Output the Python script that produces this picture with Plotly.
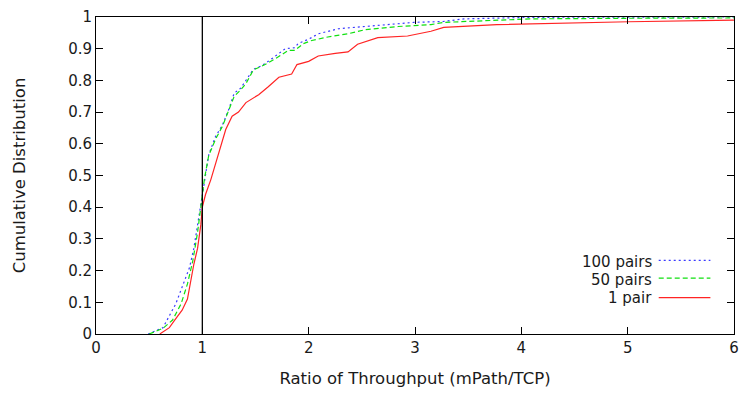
import plotly.graph_objects as go

# Data
x_100 = [0.49, 0.57, 0.63, 0.75, 0.81, 0.88, 0.92, 0.97, 1.00, 1.03, 1.06, 1.12, 1.19, 1.25, 1.30, 1.36, 1.45, 1.48, 1.55, 1.62, 1.70, 1.78, 1.87, 1.90, 2.00, 2.09, 2.28, 2.53, 2.84, 2.99, 3.27, 3.46, 4.08, 5.0, 6.0]
y_100 = [0.0, 0.012, 0.02, 0.095, 0.147, 0.21, 0.27, 0.376, 0.449, 0.50, 0.565, 0.62, 0.66, 0.71, 0.76, 0.775, 0.82, 0.835, 0.845, 0.86, 0.88, 0.90, 0.903, 0.916, 0.93, 0.947, 0.963, 0.97, 0.978, 0.983, 0.986, 0.994, 0.999, 1.0, 1.0]

x_50 = [0.50, 0.63, 0.72, 0.80, 0.86, 0.91, 0.955, 0.986, 1.02, 1.06, 1.125, 1.19, 1.25, 1.30, 1.36, 1.41, 1.48, 1.59, 1.69, 1.81, 1.87, 1.95, 2.03, 2.18, 2.37, 2.53, 2.84, 3.15, 3.27, 4.08, 5.0, 6.0]
y_50 = [0.0, 0.018, 0.044, 0.095, 0.158, 0.23, 0.32, 0.41, 0.49, 0.563, 0.615, 0.656, 0.708, 0.75, 0.77, 0.79, 0.833, 0.85, 0.869, 0.895, 0.895, 0.916, 0.926, 0.937, 0.947, 0.96, 0.97, 0.976, 0.983, 0.994, 0.996, 0.997]

x_1 = [0.60, 0.69, 0.74, 0.81, 0.86, 0.89, 0.92, 0.955, 0.986, 1.00, 1.03, 1.08, 1.125, 1.17, 1.22, 1.28, 1.34, 1.41, 1.53, 1.62, 1.72, 1.84, 1.89, 2.00, 2.09, 2.25, 2.37, 2.46, 2.65, 2.93, 3.15, 3.27, 3.77, 5.01, 6.0]
y_1 = [0.0, 0.02, 0.044, 0.075, 0.11, 0.168, 0.22, 0.27, 0.345, 0.40, 0.44, 0.487, 0.54, 0.585, 0.645, 0.687, 0.70, 0.73, 0.755, 0.78, 0.81, 0.82, 0.85, 0.86, 0.877, 0.885, 0.89, 0.914, 0.935, 0.94, 0.955, 0.967, 0.976, 0.985, 0.99]

series = [
    ("100 pairs", x_100, y_100, "#3a3aff", "2px,3px"),
    ("50 pairs", x_50, y_50, "#10e010", "5px,3px"),
    ("1 pair", x_1, y_1, "#ff2424", "solid"),
]

x_ticks = [0, 1, 2, 3, 4, 5, 6]
y_ticks = [0, 0.1, 0.2, 0.3, 0.4, 0.5, 0.6, 0.7, 0.8, 0.9, 1]
y_tick_labels = ["0", "0.1", "0.2", "0.3", "0.4", "0.5", "0.6", "0.7", "0.8", "0.9", "1"]

font_family = "DejaVu Sans, Verdana, sans-serif"
txt_color = "#1a1a1a"

fig = go.Figure()
for name, xs, ys, color, dash in series:
    fig.add_trace(go.Scatter(x=xs, y=ys, mode="lines", name=name,
                             line=dict(color=color, width=1.2, dash=dash),
                             showlegend=False))

# vertical reference line at x = 1
fig.add_shape(type="line", xref="x", yref="y", x0=1, x1=1, y0=0, y1=1,
              line=dict(color="black", width=1.3))

# manual legend (text on the left, sample on the right, like gnuplot)
legend_text_y = [0.227, 0.171, 0.115]
legend_line_y = [0.232, 0.176, 0.115]
for (name, xs, ys, color, dash), ty, ly in zip(series, legend_text_y, legend_line_y):
    fig.add_annotation(xref="paper", yref="paper", x=0.864, y=ty, text=name,
                       showarrow=False, xanchor="right", yanchor="middle",
                       xshift=6, borderpad=0,
                       font=dict(size=15, color=txt_color, family=font_family))
    fig.add_shape(type="line", xref="paper", yref="paper", x0=0.882, x1=0.963,
                  y0=ly, y1=ly, line=dict(color=color, width=1.2, dash=dash))

axis_common = dict(showgrid=False, zeroline=False, showline=True, linecolor="black",
                   linewidth=1, mirror="ticks", ticks="inside", ticklen=7,
                   tickcolor="black", tickwidth=1,
                   tickfont=dict(size=15, color=txt_color, family=font_family))

fig.update_xaxes(range=[0, 6], tickvals=x_ticks, ticktext=[str(v) for v in x_ticks],
                 title=dict(text="Ratio of Throughput (mPath/TCP)", standoff=16,
                            font=dict(size=16.5, color=txt_color, family=font_family)),
                 **axis_common)
fig.update_yaxes(range=[0, 1], tickvals=y_ticks, ticktext=y_tick_labels,
                 title=dict(text="Cumulative Distribution", standoff=38,
                            font=dict(size=16.5, color=txt_color, family=font_family)),
                 **axis_common)

fig.update_layout(width=747, height=394, margin=dict(l=96, r=8, t=13, b=60),
                  plot_bgcolor="white", paper_bgcolor="white",
                  font=dict(family=font_family))

fig.write_html("out.html")
